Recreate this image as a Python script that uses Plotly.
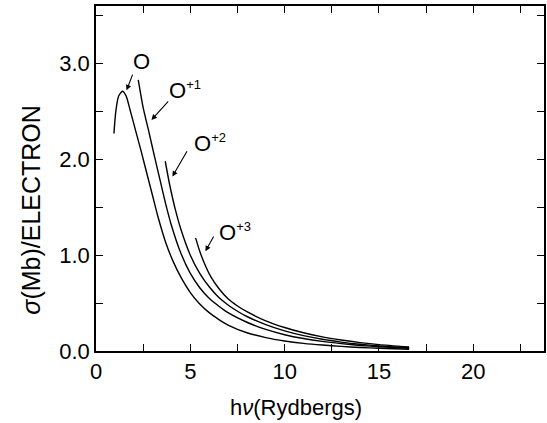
import plotly.graph_objects as go

# ---- data ----
o0_x = [0.95, 1.05, 1.2, 1.4, 1.6, 1.8, 2.1, 2.4, 2.7, 3.0, 3.3, 3.7, 4.1, 4.5, 5.0, 5.5, 6.0, 6.5, 7.0, 8.0, 9.0, 10.0, 11.0, 12.0, 13.0, 14.0, 15.0, 16.6]
o0_y = [2.27, 2.50, 2.66, 2.71, 2.66, 2.52, 2.30, 2.08, 1.85, 1.62, 1.39, 1.13, 0.93, 0.77, 0.61, 0.49, 0.40, 0.33, 0.27, 0.19, 0.14, 0.105, 0.08, 0.062, 0.048, 0.037, 0.029, 0.018]

o1_x = [2.24, 2.5, 2.8, 3.1, 3.4, 3.7, 4.0, 4.5, 5.0, 5.5, 6.0, 6.5, 7.0, 8.0, 9.0, 10.0, 11.0, 12.0, 13.0, 14.0, 15.0, 16.6]
o1_y = [2.83, 2.54, 2.29, 2.03, 1.78, 1.53, 1.31, 1.02, 0.81, 0.66, 0.55, 0.47, 0.40, 0.30, 0.225, 0.17, 0.13, 0.10, 0.077, 0.058, 0.044, 0.028]

o2_x = [3.67, 3.9, 4.2, 4.5, 5.0, 5.5, 6.0, 6.5, 7.0, 7.5, 8.0, 9.0, 10.0, 11.0, 12.0, 13.0, 14.0, 15.0, 16.6]
o2_y = [1.98, 1.74, 1.48, 1.27, 1.00, 0.81, 0.67, 0.56, 0.48, 0.415, 0.36, 0.275, 0.21, 0.16, 0.122, 0.093, 0.07, 0.053, 0.034]

o3_x = [5.28, 5.5, 5.8, 6.1, 6.5, 7.0, 7.5, 8.0, 9.0, 10.0, 11.0, 12.0, 13.0, 14.0, 15.0, 16.6]
o3_y = [1.18, 1.04, 0.89, 0.77, 0.655, 0.545, 0.47, 0.41, 0.315, 0.245, 0.19, 0.148, 0.115, 0.088, 0.067, 0.042]

series_names = ["O", "O+1", "O+2", "O+3"]

# curve labels: base letter, superscript, text position, arrow tail, arrow head (data coords)
label_base = ["O", "O", "O", "O"]
label_sup = ["", "+1", "+2", "+3"]
label_x = [2.41, 4.18, 5.50, 6.83]
label_y = [3.02, 2.72, 2.17, 1.24]
arrow_tail_x = [1.97, 3.90, 4.87, 6.28]
arrow_tail_y = [2.90, 2.62, 2.10, 1.21]
arrow_head_x = [1.62, 2.94, 4.05, 5.80]
arrow_head_y = [2.72, 2.41, 1.82, 1.04]

x_tick_vals = [0, 2.5, 5, 7.5, 10, 12.5, 15, 17.5, 20, 22.5]
x_tick_text = ["0", "", "5", "", "10", "", "15", "", "20", ""]
y_tick_vals = [0, 0.5, 1.0, 1.5, 2.0, 2.5, 3.0, 3.5]
y_tick_text = ["0.0", "", "1.0", "", "2.0", "", "3.0", ""]

FONT = "Liberation Sans, Arial, Helvetica, sans-serif"

fig = go.Figure()
for xs, ys, nm in zip([o0_x, o1_x, o2_x, o3_x], [o0_y, o1_y, o2_y, o3_y], series_names):
    fig.add_trace(go.Scatter(x=xs, y=ys, mode="lines", name=nm,
                             line=dict(color="black", width=1.4, shape="spline", smoothing=0.6),
                             showlegend=False, hoverinfo="skip"))

annotations = []
for b, s, lx, ly, tx, ty, hx, hy in zip(label_base, label_sup, label_x, label_y,
                                         arrow_tail_x, arrow_tail_y, arrow_head_x, arrow_head_y):
    txt = b if not s else f"{b}<sup><span style='font-size:13px'>{s}</span></sup>"
    annotations.append(dict(x=lx, y=ly, xref="x", yref="y", text=txt, showarrow=False,
                            xanchor="left" if s else "center", yanchor="middle",
                            xshift=-8 if s else 0,
                            font=dict(family=FONT, size=22, color="black")))
    annotations.append(dict(x=hx, y=hy, xref="x", yref="y", ax=tx, ay=ty, axref="x", ayref="y",
                            text="", showarrow=True, arrowhead=2, arrowsize=1, arrowwidth=1.1,
                            arrowcolor="black", standoff=0, startstandoff=0))

# axis titles
annotations.append(dict(x=0.447, y=-0.165, xref="paper", yref="paper",
                        text="h<i>ν</i>(Rydbergs)", showarrow=False,
                        xanchor="center", yanchor="middle",
                        font=dict(family=FONT, size=22, color="black")))
annotations.append(dict(x=-0.147, y=0.41, xref="paper", yref="paper",
                        text="<i>σ</i>(Mb)/ELECTRON", showarrow=False, textangle=-90,
                        xanchor="center", yanchor="middle",
                        font=dict(family=FONT, size=25, color="black")))

fig.update_layout(
    width=547, height=423,
    margin=dict(l=96, r=1, t=6, b=72),
    paper_bgcolor="white", plot_bgcolor="white",
    font=dict(family=FONT, size=20, color="black"),
    annotations=annotations,
)
fig.update_xaxes(range=[0, 23.75], tickvals=x_tick_vals, ticktext=x_tick_text,
                 ticks="inside", ticklen=7, tickwidth=1.2, tickcolor="black",
                 showline=True, linecolor="black", linewidth=1.6, mirror="ticks",
                 showgrid=False, zeroline=False, tickfont=dict(size=22))
fig.update_yaxes(range=[0, 3.6], tickvals=y_tick_vals, ticktext=y_tick_text,
                 ticks="inside", ticklen=7, tickwidth=1.2, tickcolor="black",
                 showline=True, linecolor="black", linewidth=1.6, mirror="ticks",
                 showgrid=False, zeroline=False, tickfont=dict(size=22))

fig.write_html("out.html", config={"displayModeBar": False},
               post_script="document.body.style.margin='0';document.body.style.overflow='hidden';")
